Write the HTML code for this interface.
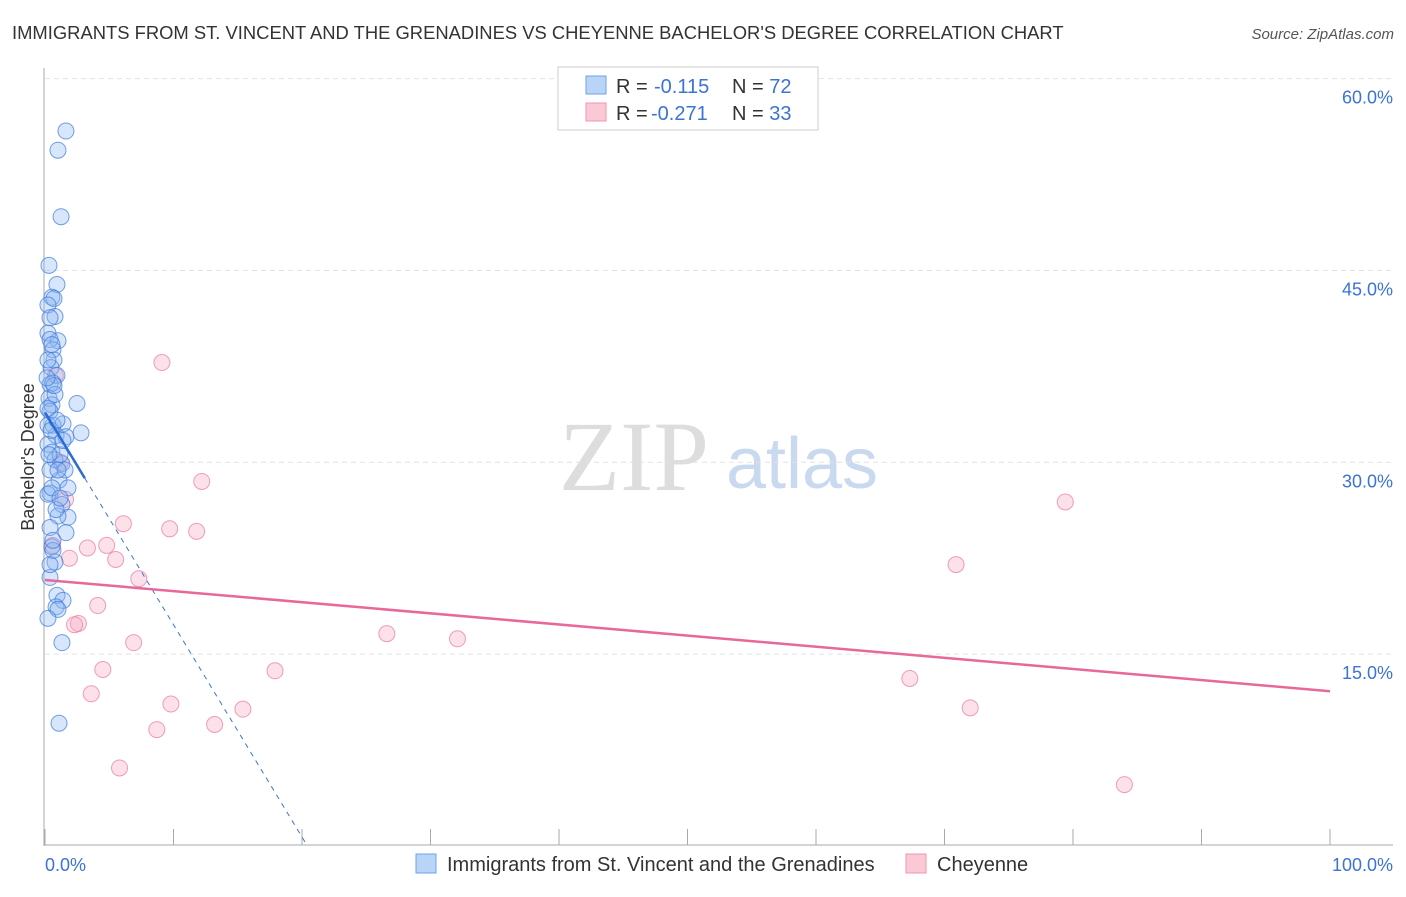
<!DOCTYPE html>
<html><head><meta charset="utf-8"><style>
body{margin:0;background:#fff;font-family:"Liberation Sans",sans-serif;}
</style></head><body>
<svg id="chart" width="1406" height="892" xmlns="http://www.w3.org/2000/svg" font-family="Liberation Sans, sans-serif">
<text x="12" y="39" font-size="18.4" fill="#333">IMMIGRANTS FROM ST. VINCENT AND THE GRENADINES VS CHEYENNE BACHELOR'S DEGREE CORRELATION CHART</text>
<text x="1394" y="39" font-size="15" fill="#555" font-style="italic" text-anchor="end">Source: ZipAtlas.com</text>
<g>
<text x="634" y="490" font-size="100" fill="#ddd" style="font-family:'Liberation Serif',serif" text-anchor="middle">ZIP</text>
<text x="802" y="488" font-size="72" fill="#c9d9ef" text-anchor="middle">atlas</text>
</g>
<g id="grid"></g>
<g id="axes"></g>
<g id="marks"></g>
<text transform="translate(34,457) rotate(-90)" font-size="18" fill="#333" text-anchor="middle">Bachelor's Degree</text>
<g>
<rect x="558" y="67" width="260" height="63" fill="#fff" stroke="#ccc"/>
<rect x="586" y="76" width="20" height="18" fill="#b8d4f7" stroke="#6fa2e8"/>
<rect x="586" y="103" width="20" height="18" fill="#fbc8d6" stroke="#ee97b0"/>
<text x="616" y="93" font-size="20" fill="#333">R = <tspan x="654" fill="#3b73d6">-0.115</tspan><tspan x="732">N = </tspan><tspan fill="#3b73d6">72</tspan></text>
<text x="616" y="120" font-size="20" fill="#333">R = <tspan x="651" fill="#3b73d6">-0.271</tspan><tspan x="732">N = </tspan><tspan fill="#3b73d6">33</tspan></text>
</g>
<g>
<rect x="416" y="854" width="20" height="19" fill="#b8d4f7" stroke="#6fa2e8"/>
<text x="447" y="871" font-size="20" fill="#333">Immigrants from St. Vincent and the Grenadines</text>
<rect x="906" y="854" width="20" height="19" fill="#fbc8d6" stroke="#ee97b0"/>
<text x="937" y="871" font-size="20" fill="#333">Cheyenne</text>
</g>
</svg>
<script>
const yTicks=[15,30,45,60];
const yTickLabels=["15.0%","30.0%","45.0%","60.0%"];
const xTicks=[0,10,20,30,40,50,60,70,80,90,100];
const xEndLabels=["0.0%","100.0%"];
const blueX=[1.63,1.01,1.25,0.31,0.93,0.54,0.70,0.23,0.78,0.23,1.01,0.39,0.62,0.70,0.47,0.93,0.39,0.62,0.31,0.54,0.39,2.49,1.40,0.62,2.80,0.86,1.63,0.23,0.54,1.32,0.78,1.56,1.09,1.79,0.39,0.23,1.32,1.79,1.01,1.63,0.39,0.54,0.78,0.39,0.93,1.40,0.86,1.01,0.23,1.32,1.09,0.23,0.39,0.54,0.78,1.17,0.23,0.39,0.62,0.86,0.47,0.93,0.31,1.40,0.70,0.16,0.54,0.23,1.17,0.62,0.39,1.01];
const blueY=[55.9,54.4,49.2,45.4,43.9,42.9,42.8,42.3,41.4,40.1,39.5,39.6,38.8,38.0,37.4,36.8,36.1,36.2,35.0,34.5,34.0,34.6,33.0,32.9,32.3,32.1,32.0,31.4,30.8,29.9,30.2,29.4,28.6,28.0,27.6,27.5,26.7,25.7,25.8,24.5,24.9,23.4,22.2,21.0,19.6,19.2,18.7,18.5,17.8,15.9,9.6,32.9,29.4,28.0,35.3,30.6,38.0,41.3,23.1,26.3,32.5,33.3,30.6,31.7,36.0,36.6,39.2,34.2,27.2,23.9,22.0,29.4];
const pinkX=[9.1,12.2,79.4,6.1,9.7,11.8,3.3,4.8,5.5,1.9,7.3,4.1,2.6,2.3,6.9,26.6,32.1,70.9,4.5,17.9,67.3,3.6,9.8,15.4,13.2,72.0,8.7,5.8,84.0,1.6,0.8,0.6,1.2];
const pinkY=[37.8,28.5,26.9,25.2,24.8,24.6,23.3,23.5,22.4,22.5,20.9,18.8,17.4,17.3,15.9,16.6,16.2,22.0,13.8,13.7,13.1,11.9,11.1,10.7,9.5,10.8,9.1,6.1,4.8,27.1,36.8,23.5,30.0];
const blueTrend=[33.9,-1.66];
const pinkTrend=[20.8,-0.087];
const NS="http://www.w3.org/2000/svg";
const xs=v=>45+v*12.85, ys=v=>846-v*12.79;
function mk(tag,attrs,parent){const e=document.createElementNS(NS,tag);for(const k in attrs)e.setAttribute(k,attrs[k]);document.getElementById(parent).appendChild(e);return e;}
yTicks.forEach((t,i)=>{
 const g=mk('line',{x1:45,x2:1393,y1:ys(t),y2:ys(t),stroke:'#e2e2e2','stroke-dasharray':'5,4'},'grid');
 
 
 const l=mk('text',{x:1393,y:ys(t)+25,'font-size':18,fill:'#3b73d6','text-anchor':'end'},'axes');l.textContent=yTickLabels[i];
 
 
});
let a=mk('line',{x1:44,x2:44,y1:68,y2:846,stroke:'#aaa'},'axes');


a=mk('line',{x1:44,x2:1393,y1:845,y2:845,stroke:'#aaa'},'axes');


xTicks.forEach(t=>{const e=mk('line',{x1:xs(t),x2:xs(t),y1:829,y2:845,stroke:'#aaa'},'axes');
 
 });
[[0,'start'],[100,'end']].forEach(([t,an],i)=>{const e=mk('text',{x:i?1393:45,y:871,'font-size':18,fill:'#3b73d6','text-anchor':an},'axes');e.textContent=xEndLabels[i];
 
 });
pinkX.forEach((x,i)=>{const c=mk('circle',{cx:xs(x),cy:ys(pinkY[i]),r:8,fill:'rgba(247,170,195,0.35)',stroke:'rgba(233,120,155,0.7)','stroke-width':1},'marks');
 
 });
blueX.forEach((x,i)=>{const c=mk('circle',{cx:xs(x),cy:ys(blueY[i]),r:8,fill:'rgba(140,182,240,0.35)',stroke:'rgba(60,120,220,0.7)','stroke-width':1},'marks');
 
 });
const bx0=-blueTrend[0]/blueTrend[1];
let tl=mk('line',{x1:xs(3.1),y1:ys(blueTrend[0]+blueTrend[1]*3.1),x2:xs(bx0),y2:ys(0),stroke:'#3b73d6','stroke-width':1,'stroke-dasharray':'5,5'},'marks');


tl=mk('line',{x1:xs(0),y1:ys(blueTrend[0]),x2:xs(3.1),y2:ys(blueTrend[0]+blueTrend[1]*3.1),stroke:'#2a6bd6','stroke-width':2.5},'marks');


tl=mk('line',{x1:xs(0),y1:ys(pinkTrend[0]),x2:xs(100),y2:ys(pinkTrend[0]+pinkTrend[1]*100),stroke:'#e8689a','stroke-width':2.5},'marks');


</script>
</body></html>
